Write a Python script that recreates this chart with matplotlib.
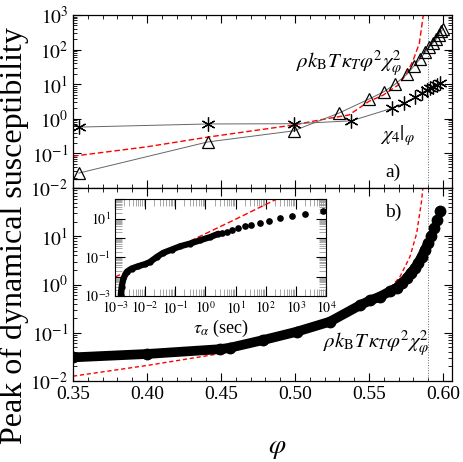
import matplotlib
matplotlib.use('Agg')
import matplotlib.pyplot as plt
import numpy as np
from matplotlib.ticker import MultipleLocator, LogLocator, NullFormatter

plt.rcParams['font.family'] = ['Liberation Serif', 'DejaVu Serif']
plt.rcParams['mathtext.fontset'] = 'stix'

# panel a) : triangles  rho kB T kappa_T phi^2 chi_phi^2
phi_tri = [0.354, 0.441, 0.499, 0.530, 0.550, 0.560, 0.5676, 0.5755, 0.5805, 0.5845,
           0.588, 0.5908, 0.5932, 0.5955, 0.5973, 0.5989, 0.6002]
chi_tri = [0.027, 0.214, 0.447, 1.48, 3.72, 6.03, 10.0, 19.1, 33.9, 53.7,
           83.2, 117, 155, 204, 263, 339, 400]
# panel a) : stars  chi_4|phi
phi_star = [0.354, 0.441, 0.499, 0.538, 0.5653, 0.5736, 0.5811, 0.5856, 0.589,
            0.5912, 0.5934, 0.5957, 0.598]
chi_star = [0.575, 0.708, 0.72, 0.871, 2.0, 2.82, 4.17, 5.5, 6.76,
            7.59, 8.51, 9.55, 10.7]
# panel a) : red dashed curve
phi_fit_a = [0.35, 0.40, 0.441, 0.499, 0.517, 0.5365, 0.55, 0.5595, 0.5698, 0.5755,
             0.5799, 0.5840, 0.5867]
chi_fit_a = [0.083, 0.155, 0.295, 0.66, 0.93, 1.29, 3.2, 4.8, 9.5, 20.4,
             50, 151, 1000]

# panel b) : filled circles
phi_b = [0.35, 0.3998, 0.4493, 0.4561, 0.4786, 0.5011, 0.5236, 0.5439, 0.5507, 0.5574,
         0.5642, 0.5687, 0.5721, 0.5755, 0.5782, 0.5811, 0.5833, 0.5856, 0.5878, 0.5901,
         0.5917, 0.5939, 0.5962, 0.5980]
chi_b = [0.0309, 0.0363, 0.0457, 0.049, 0.0708, 0.105, 0.17, 0.372, 0.468, 0.562,
         0.724, 0.851, 1.07, 1.35, 1.74, 2.19, 2.82, 3.80, 5.25, 7.24,
         10.2, 14.8, 21.4, 33.1]
# panel b) : red dashed curve
phi_fit_b = [0.35, 0.40, 0.4358, 0.456, 0.4786, 0.5011, 0.5236, 0.5439, 0.5529, 0.5620,
             0.5709, 0.5777, 0.5822, 0.5856, 0.5866]
chi_fit_b = [0.0126, 0.021, 0.0316, 0.040, 0.062, 0.10, 0.174, 0.324, 0.437, 0.708,
             1.445, 3.80, 11.5, 56, 120]

# inset : chi vs tau_alpha
tau_dense = [0.00155, 0.00166, 0.00191, 0.00245, 0.00355, 0.00589, 0.0100, 0.0145,
             0.0245, 0.0398, 0.0759, 0.145, 0.309, 0.661, 1.45, 2.69]
chi_dense = [0.00112, 0.0030, 0.0081, 0.0178, 0.0263, 0.0347, 0.0447, 0.0575,
             0.105, 0.170, 0.251, 0.372, 0.513, 0.759, 1.12, 1.66]
tau_sparse = [3.47, 5.13, 7.59, 12.0, 20.0, 33.1, 66.1, 132, 288, 741, 2040, 7760]
chi_sparse = [1.78, 2.14, 2.45, 3.24, 3.98, 4.90, 6.17, 7.76, 10.2, 13.5, 17.8, 25.7]
tau_fit = [0.001, 8.3, 224]
chi_fit = [0.0095, 8.1, 100]

phi_c = 0.59

fig = plt.figure(figsize=(4.63, 4.62), dpi=100)
ax1 = fig.add_axes([0.1577, 0.5931, 0.8186, 0.3745])
ax2 = fig.add_axes([0.1577, 0.1753, 0.8186, 0.4177])
ins = fig.add_axes([0.2484, 0.3593, 0.4557, 0.2093])

for ax in (ax1, ax2):
    ax.set_yscale('log')
    ax.set_xlim(0.35, 0.6061)
    ax.xaxis.set_major_locator(MultipleLocator(0.05))
    ax.xaxis.set_minor_locator(MultipleLocator(0.01))
    ax.yaxis.set_minor_locator(LogLocator(base=10, subs=np.arange(2, 10)))
    ax.yaxis.set_minor_formatter(NullFormatter())
    ax.tick_params(which='both', direction='in', top=True, right=True, labelsize=14)
    ax.tick_params(which='major', length=6, width=0.8)
    ax.tick_params(which='minor', length=3, width=0.6)
    ax.axvline(phi_c, color='0.4', lw=0.7, ls=':')
    for s in ax.spines.values():
        s.set_linewidth(0.9)

# panel a)
ax1.set_ylim(1e-2, 1e3)
ax1.set_yticks([1e-2, 1e-1, 1, 10, 100, 1000])
ax1.set_yticklabels(['$10^{-2}$', '$10^{-1}$', '$10^{0}$', '$10^{1}$', '$10^{2}$', '$10^{3}$'])
ax1.tick_params(labelbottom=False)
ax1.plot(phi_fit_a, chi_fit_a, color='red', lw=1.0, dashes=(4, 2))
ax1.plot(phi_tri, chi_tri, '-', color='0.4', lw=0.7, marker='^', ms=9,
         mfc='none', mec='black', mew=0.9)
ax1.plot(phi_star, chi_star, '-', color='0.4', lw=0.7, marker=(6, 2, 0), ms=10,
         mec='black', mew=0.9)
ax1.text(0.588, 0.694, r'$\rho k_{\rm B}T\,\kappa_T\varphi^2\chi_\varphi^2$',
         transform=ax1.transAxes, fontsize=15, ha='left', va='baseline')
ax1.text(0.81, 0.277, r'$\chi_4|_\varphi$', transform=ax1.transAxes,
         fontsize=15, ha='left', va='baseline')
ax1.text(0.823, 0.064, 'a)', transform=ax1.transAxes, fontsize=14,
         ha='left', va='baseline')

# panel b)
ax2.set_ylim(1e-2, 1e2)
ax2.set_yticks([1e-2, 1e-1, 1, 10, 100])
ax2.set_yticklabels(['$10^{-2}$', '$10^{-1}$', '$10^{0}$', '$10^{1}$', ''])
ax2.set_xticks([0.35, 0.40, 0.45, 0.50, 0.55, 0.60])
ax2.set_xticklabels(['0.35', '0.40', '0.45', '0.50', '0.55', '0.60'])
ax2.plot(phi_fit_b, chi_fit_b, color='red', lw=1.0, dashes=(3, 2))
ax2.plot(phi_b[:-4], chi_b[:-4], '-', color='black', lw=7, solid_capstyle='round')
ax2.plot(phi_b, chi_b, 'o', color='black', ms=7.5)
ax2.text(0.66, 0.171, r'$\rho k_{\rm B}T\,\kappa_T\varphi^2\chi_\varphi^2$',
         transform=ax2.transAxes, fontsize=15, ha='left', va='baseline')
ax2.text(0.823, 0.851, 'b)', transform=ax2.transAxes, fontsize=14,
         ha='left', va='baseline')

# inset
ins.set_xscale('log')
ins.set_yscale('log')
ins.set_xlim(1e-3, 1e4)
ins.set_ylim(1e-3, 1e2)
ins.plot(tau_fit, chi_fit, color='red', lw=1.0, dashes=(4, 2))
ins.plot(tau_dense, chi_dense, '-', color='black', lw=4.5, solid_capstyle='round')
ins.plot(tau_dense, chi_dense, 'o', color='black', ms=3.5)
ins.plot(tau_sparse, chi_sparse, 'o', color='black', ms=3.8)
ins.set_xticks([10.0 ** k for k in range(-3, 5)])
ins.set_xticklabels(['$10^{%d}$' % k for k in range(-3, 5)])
ins.set_yticks([10.0 ** k for k in range(-3, 3)])
ins.set_yticklabels(['$10^{-3}$', '', '$10^{-1}$', '', '$10^{1}$', ''])
for axis in (ins.xaxis, ins.yaxis):
    axis.set_minor_locator(LogLocator(base=10, subs=np.arange(2, 10), numticks=20))
    axis.set_minor_formatter(NullFormatter())
ins.tick_params(which='both', direction='in', top=True, right=True, labelsize=10, pad=3)
ins.tick_params(which='major', length=7, width=0.8, color='black')
ins.tick_params(which='minor', length=5, width=0.6, color='0.6')
for s in ins.spines.values():
    s.set_linewidth(0.8)
ins.set_xlabel(r'$\tau_\alpha$ (sec)', fontsize=13, labelpad=1)

fig.text(0.03, 0.49, 'Peak of dynamical susceptibility', rotation=90,
         fontsize=23, ha='center', va='center')
fig.text(0.598, 0.03, r'$\varphi$', fontsize=20, ha='center', va='center')

fig.savefig('out.png', dpi=100)
